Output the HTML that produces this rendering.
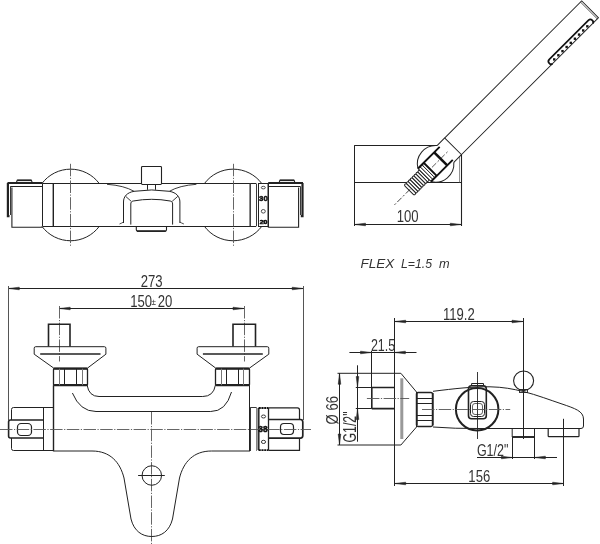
<!DOCTYPE html>
<html><head><meta charset="utf-8"><style>
html,body{margin:0;padding:0;background:#fff;width:600px;height:544px;overflow:hidden}
svg{display:block;will-change:transform}
</style></head><body>
<svg width="600" height="544" viewBox="0 0 600 544">
<rect width="600" height="544" fill="#fff"/>
<line x1="42.6" y1="183.5" x2="256" y2="183.5" stroke="#222" stroke-width="1" />
<line x1="42.6" y1="226.5" x2="256" y2="226.5" stroke="#222" stroke-width="1" />
<path d="M41.94,183.5 A35.8,35.8 0 0 1 99.26,183.5" stroke="#222" stroke-width="1" fill="none" />
<path d="M41.86,226.3 A35.8,35.8 0 0 0 99.34,226.3" stroke="#222" stroke-width="1" fill="none" />
<line x1="70.5" y1="163.8" x2="70.5" y2="246.5" stroke="#555" stroke-width="0.9" stroke-dasharray="12.5,1.5,1.2,1.5"/>
<path d="M204.44,183.5 A35.8,35.8 0 0 1 261.76,183.5" stroke="#222" stroke-width="1" fill="none" />
<path d="M204.36,226.3 A35.8,35.8 0 0 0 261.84,226.3" stroke="#222" stroke-width="1" fill="none" />
<line x1="233.5" y1="163.8" x2="233.5" y2="246.5" stroke="#555" stroke-width="0.9" stroke-dasharray="12.5,1.5,1.2,1.5"/>
<line x1="42.5" y1="183.5" x2="42.5" y2="226.3" stroke="#222" stroke-width="1" />
<line x1="53.3" y1="183.5" x2="53.3" y2="226.3" stroke="#222" stroke-width="1.4" />
<line x1="250.2" y1="183.5" x2="250.2" y2="226.3" stroke="#444" stroke-width="1.6" />
<line x1="7.5" y1="183" x2="42.6" y2="183" stroke="#222" stroke-width="2" />
<line x1="10.5" y1="186.5" x2="42.6" y2="186.5" stroke="#222" stroke-width="1.2" />
<path d="M42.6,227.2 L11.9,227.2 L11.9,187.5" stroke="#222" stroke-width="1.1" fill="none" />
<path d="M9.5,216.2 L7.9,216.2 L7.9,183" stroke="#222" stroke-width="2.2" fill="none" />
<line x1="10.5" y1="186.3" x2="10.5" y2="215" stroke="#222" stroke-width="0.9" />
<path d="M16.3,183 L17.2,180.2 L31.4,180.2 L32.3,183" stroke="#222" stroke-width="1.1" fill="none" />
<line x1="17.2" y1="180.3" x2="31.4" y2="180.3" stroke="#222" stroke-width="1.6" />
<line x1="256.5" y1="183.5" x2="256.5" y2="226.3" stroke="#222" stroke-width="0.9" />
<rect x="258.5" y="183.5" width="10.0" height="43.0" rx="0" stroke="#222" stroke-width="1" fill="none" />
<ellipse cx="263.3" cy="187.6" rx="2" ry="1.3" stroke="#222" stroke-width="0.8" fill="none"/>
<ellipse cx="263.3" cy="211.3" rx="2" ry="1.8" stroke="#222" stroke-width="0.8" fill="none"/>
<text transform="translate(263.4,201.2) scale(1.0,1)" font-family="Liberation Sans, sans-serif" font-size="7.9" fill="#111" text-anchor="middle" font-weight="bold" stroke="#111" stroke-width="0.5">30</text>
<text transform="translate(263.5,224.4) scale(1.5,1)" font-family="Liberation Sans, sans-serif" font-size="4.6" fill="#111" text-anchor="middle" font-weight="bold" stroke="#111" stroke-width="0.5">20</text>
<line x1="268.2" y1="183" x2="303" y2="183" stroke="#222" stroke-width="2" />
<line x1="268.2" y1="186.5" x2="300.3" y2="186.5" stroke="#222" stroke-width="1.2" />
<line x1="268.2" y1="183" x2="268.2" y2="227.2" stroke="#222" stroke-width="1.4" />
<path d="M268.2,227.2 L298.6,227.2 L298.6,187.5" stroke="#222" stroke-width="1.1" fill="none" />
<path d="M300.8,216.1 L302.5,216.1 L302.5,183" stroke="#222" stroke-width="2.2" fill="none" />
<line x1="300.5" y1="186.3" x2="300.5" y2="215" stroke="#222" stroke-width="0.9" />
<path d="M279,183 L279.9,180.2 L294.1,180.2 L295,183" stroke="#222" stroke-width="1.1" fill="none" />
<line x1="279.9" y1="180.3" x2="294.1" y2="180.3" stroke="#222" stroke-width="1.6" />
<rect x="141.5" y="166.5" width="20.0" height="18.0" rx="0.9" stroke="#222" stroke-width="1.1" fill="#fff" />
<line x1="147.5" y1="184.9" x2="147.5" y2="189.8" stroke="#222" stroke-width="1" />
<line x1="155.5" y1="184.9" x2="155.5" y2="189.8" stroke="#222" stroke-width="1" />
<path d="M123.5,223 L123.5,202 C123.5,196.5 127,192.6 134,191.3 Q151.7,188.6 169.4,191.3 C176.4,192.6 179.9,196.5 179.9,202 L179.9,223" stroke="#222" stroke-width="1" fill="none" />
<path d="M130.8,224.6 L130.8,204 C130.8,202.2 131.6,201.3 133.2,201 Q151.7,197.6 170.2,201 C171.8,201.3 172.6,202.2 172.6,204 L172.6,224.6" stroke="#222" stroke-width="1" fill="none" />
<line x1="125.6" y1="196.3" x2="131.2" y2="201.3" stroke="#222" stroke-width="0.9" />
<line x1="177.8" y1="196.3" x2="172.2" y2="201.3" stroke="#222" stroke-width="0.9" />
<path d="M107,184.3 Q124,185.5 134,191.3" stroke="#222" stroke-width="0.9" fill="none" />
<path d="M196.4,184.3 Q179.4,185.5 169.4,191.3" stroke="#222" stroke-width="0.9" fill="none" />
<path d="M119.5,224 Q122,223 123.5,222" stroke="#222" stroke-width="0.8" fill="none" />
<path d="M183.9,224 Q181.4,223 179.9,222" stroke="#222" stroke-width="0.8" fill="none" />
<path d="M136.3,226.3 L136.3,229.8 Q136.3,231.2 137.8,231.2 L165,231.2 Q166.5,231.2 166.5,229.8 L166.5,226.3" stroke="#222" stroke-width="1.1" fill="none" />
<line x1="137" y1="231.1" x2="165.8" y2="231.1" stroke="#222" stroke-width="1.7" />
<line x1="354.2" y1="145.5" x2="436.8" y2="145.5" stroke="#222" stroke-width="1" />
<line x1="354.2" y1="182.5" x2="461.3" y2="182.5" stroke="#222" stroke-width="1" />
<line x1="354.5" y1="145.5" x2="354.5" y2="226" stroke="#222" stroke-width="1" />
<line x1="461.5" y1="154.5" x2="461.5" y2="226" stroke="#222" stroke-width="1.1" />
<line x1="459.5" y1="156" x2="459.5" y2="182.3" stroke="#777" stroke-width="0.8" />
<line x1="354.2" y1="224.5" x2="461.3" y2="224.5" stroke="#222" stroke-width="1" />
<path d="M354.50,224.50 L365.50,223.20 L365.50,225.80 Z" fill="#222" stroke="#222" stroke-width="0.5"/>
<path d="M461.30,224.50 L450.30,225.80 L450.30,223.20 Z" fill="#222" stroke="#222" stroke-width="0.5"/>
<text transform="translate(407.7,222) scale(0.8,1)" font-family="Liberation Sans, sans-serif" font-size="16.4" fill="#333" text-anchor="middle" >100</text>
<g transform="translate(435.5,163.85) rotate(-45)">
<path d="M24.85,-11.85 L218.6,-11.85 L218.6,11.85 L24.85,11.85 Z" stroke="#222" stroke-width="1" fill="#fff"/>
<line x1="216.9" y1="-11.85" x2="216.9" y2="11.85" stroke="#222" stroke-width="0.7" />
<path d="M24.85,-11.85 L14.07,-11.85 M24.85,11.85 L14.07,11.85" stroke="#222" stroke-width="1" fill="none"/>
<path d="M153.5,11.85 Q151.5,11.85 151.5,9.5 Q151.5,6.65 154.3,6.65 L209.5,6.65 Q212.3,6.65 212.3,9.5 Q212.3,11.85 210.5,11.85" stroke="#111" stroke-width="1.7" fill="none" />
<rect x="156.60" y="8.9" width="2.4" height="2.4" fill="#111" transform="rotate(45 157.80 10.1)"/>
<rect x="162.45" y="8.9" width="2.4" height="2.4" fill="#111" transform="rotate(45 163.65 10.1)"/>
<rect x="168.30" y="8.9" width="2.4" height="2.4" fill="#111" transform="rotate(45 169.50 10.1)"/>
<rect x="174.15" y="8.9" width="2.4" height="2.4" fill="#111" transform="rotate(45 175.35 10.1)"/>
<rect x="180.00" y="8.9" width="2.4" height="2.4" fill="#111" transform="rotate(45 181.20 10.1)"/>
<rect x="185.85" y="8.9" width="2.4" height="2.4" fill="#111" transform="rotate(45 187.05 10.1)"/>
<rect x="191.70" y="8.9" width="2.4" height="2.4" fill="#111" transform="rotate(45 192.90 10.1)"/>
<rect x="197.55" y="8.9" width="2.4" height="2.4" fill="#111" transform="rotate(45 198.75 10.1)"/>
<rect x="203.40" y="8.9" width="2.4" height="2.4" fill="#111" transform="rotate(45 204.60 10.1)"/>
<path d="M-15.7,-9.1 A18.4,18.4 0 0 1 14.07,-11.85" stroke="#222" stroke-width="1" fill="none" />
<path d="M-15.7,9.4 A18.4,18.4 0 0 0 14.07,11.85" stroke="#222" stroke-width="1" fill="none" />
<rect x="-18.4" y="-7.2" width="2.7" height="14.4" rx="1.35" stroke="#222" stroke-width="1.0" fill="#fff" />
<rect x="-21.099999999999998" y="-7.2" width="2.7" height="14.4" rx="1.35" stroke="#222" stroke-width="1.0" fill="#fff" />
<rect x="-23.8" y="-7.2" width="2.7" height="14.4" rx="1.35" stroke="#222" stroke-width="1.0" fill="#fff" />
<rect x="-26.5" y="-7.2" width="2.7" height="14.4" rx="1.35" stroke="#222" stroke-width="1.0" fill="#fff" />
<rect x="-29.2" y="-7.2" width="2.7" height="14.4" rx="1.35" stroke="#222" stroke-width="1.0" fill="#fff" />
<rect x="-31.9" y="-7.2" width="2.7" height="14.4" rx="1.35" stroke="#222" stroke-width="1.0" fill="#fff" />
<rect x="-34.6" y="-7.2" width="2.7" height="14.4" rx="1.35" stroke="#222" stroke-width="1.0" fill="#fff" />
<rect x="-37.300000000000004" y="-7.2" width="2.7" height="14.4" rx="1.35" stroke="#222" stroke-width="1.0" fill="#fff" />
<rect x="-10.3" y="-8.8" width="2.7" height="17.8" rx="1.35" stroke="#222" stroke-width="0.9" fill="#fff" />
<rect x="-13.0" y="-8.8" width="2.7" height="17.8" rx="1.35" stroke="#222" stroke-width="0.9" fill="#fff" />
<rect x="-15.7" y="-8.8" width="2.7" height="17.8" rx="1.35" stroke="#222" stroke-width="0.9" fill="#fff" />
<path d="M15,-9.1 L-15.7,-9.1 M15,9.4 L-15.7,9.4 M-7.6,-9.1 L-7.6,9.4" stroke="#111" stroke-width="1.9" fill="none"/>
<line x1="7.2" y1="-9.1" x2="7.2" y2="9.4" stroke="#111" stroke-width="2.6" />
<line x1="-15.7" y1="-9.1" x2="-15.7" y2="9.4" stroke="#222" stroke-width="0.9" />
<line x1="-36" y1="0" x2="-58" y2="0" stroke="#222" stroke-width="0.8" stroke-dasharray="6,2,2,2"/>
<line x1="-5" y1="0" x2="17" y2="0" stroke="#222" stroke-width="0.7" stroke-dasharray="6,2,2,2"/>
</g>
<text transform="translate(360.4,267.6) scale(1.09,1)" font-family="Liberation Sans, sans-serif" font-size="12.4" fill="#333" text-anchor="start" font-style="italic">FLEX</text>
<text transform="translate(401,267.6) scale(0.99,1)" font-family="Liberation Sans, sans-serif" font-size="12.4" fill="#333" text-anchor="start" font-style="italic">L=1.5</text>
<text transform="translate(439,267.6) scale(1.03,1)" font-family="Liberation Sans, sans-serif" font-size="12.4" fill="#333" text-anchor="start" font-style="italic">m</text>
<line x1="8.3" y1="288.5" x2="303.2" y2="288.5" stroke="#222" stroke-width="1" />
<path d="M8.30,288.50 L19.30,287.20 L19.30,289.80 Z" fill="#222" stroke="#222" stroke-width="0.5"/>
<path d="M303.20,288.50 L292.20,289.80 L292.20,287.20 Z" fill="#222" stroke="#222" stroke-width="0.5"/>
<line x1="8.5" y1="286" x2="8.5" y2="420" stroke="#555" stroke-width="1" />
<line x1="303.5" y1="286" x2="303.5" y2="420" stroke="#555" stroke-width="1" />
<text transform="translate(151.6,286.9) scale(0.8,1)" font-family="Liberation Sans, sans-serif" font-size="16.4" fill="#333" text-anchor="middle" >273</text>
<line x1="59.2" y1="308.5" x2="244" y2="308.5" stroke="#222" stroke-width="1" />
<path d="M59.20,308.50 L70.20,307.20 L70.20,309.80 Z" fill="#222" stroke="#222" stroke-width="0.5"/>
<path d="M244.00,308.50 L233.00,309.80 L233.00,307.20 Z" fill="#222" stroke="#222" stroke-width="0.5"/>
<text transform="translate(141.2,306.9) scale(0.8,1)" font-family="Liberation Sans, sans-serif" font-size="16.4" fill="#333" text-anchor="middle" >150</text>
<text transform="translate(153.7,305.2) scale(0.9,1)" font-family="Liberation Sans, sans-serif" font-size="9" fill="#333" text-anchor="middle" >&#177;</text>
<text transform="translate(165.1,306.9) scale(0.8,1)" font-family="Liberation Sans, sans-serif" font-size="16.4" fill="#333" text-anchor="middle" >20</text>
<line x1="59.5" y1="306" x2="59.5" y2="361.5" stroke="#555" stroke-width="0.9" stroke-dasharray="12.5,1.5,1.2,1.5"/>
<line x1="244.5" y1="306" x2="244.5" y2="361.5" stroke="#555" stroke-width="0.9" stroke-dasharray="12.5,1.5,1.2,1.5"/>
<path d="M48.5,346.5 L48.5,324.2 L70,324.2 L70,346.5" stroke="#222" stroke-width="1.6" fill="none" />
<path d="M233,346.5 L233,324.2 L255.5,324.2 L255.5,346.5" stroke="#222" stroke-width="1.6" fill="none" />
<path d="M35.7,346.7 L104.4,346.7 Q105.9,346.7 105.9,348.2 L105.9,354.2 L87.6,368 L53.6,368 L34.2,354.2 L34.2,348.2 Q34.2,346.7 35.7,346.7 Z" stroke="#222" stroke-width="1" fill="none" />
<line x1="40.2" y1="354" x2="100.5" y2="354" stroke="#222" stroke-width="1.6" />
<rect x="53.5" y="368.5" width="34.0" height="17.0" rx="1" stroke="#222" stroke-width="1.3" fill="none" />
<line x1="54.1" y1="368.9" x2="87.1" y2="368.9" stroke="#222" stroke-width="1.5" />
<line x1="54.1" y1="384.9" x2="87.1" y2="384.9" stroke="#222" stroke-width="1.8" />
<line x1="59.5" y1="368.7" x2="59.5" y2="385.2" stroke="#777" stroke-width="1" />
<line x1="64.5" y1="368.7" x2="64.5" y2="385.2" stroke="#222" stroke-width="1" />
<line x1="76.5" y1="368.7" x2="76.5" y2="385.2" stroke="#222" stroke-width="1" />
<line x1="82.5" y1="368.7" x2="82.5" y2="385.2" stroke="#777" stroke-width="1" />
<path d="M198.6,346.7 L267.3,346.7 Q268.8,346.7 268.8,348.2 L268.8,354.2 L249.6,368 L215.6,368 L197.1,354.2 L197.1,348.2 Q197.1,346.7 198.6,346.7 Z" stroke="#222" stroke-width="1" fill="none" />
<line x1="202.9" y1="354" x2="262.8" y2="354" stroke="#222" stroke-width="1.6" />
<rect x="215.5" y="368.5" width="34.0" height="17.0" rx="1" stroke="#222" stroke-width="1.3" fill="none" />
<line x1="216.1" y1="368.9" x2="249.1" y2="368.9" stroke="#222" stroke-width="1.5" />
<line x1="216.1" y1="384.9" x2="249.1" y2="384.9" stroke="#222" stroke-width="1.8" />
<line x1="221.5" y1="368.7" x2="221.5" y2="385.2" stroke="#777" stroke-width="1" />
<line x1="226.5" y1="368.7" x2="226.5" y2="385.2" stroke="#222" stroke-width="1" />
<line x1="238.5" y1="368.7" x2="238.5" y2="385.2" stroke="#222" stroke-width="1" />
<line x1="243.5" y1="368.7" x2="243.5" y2="385.2" stroke="#777" stroke-width="1" />
<line x1="249.5" y1="385.2" x2="249.5" y2="451" stroke="#222" stroke-width="1" />
<path d="M87.1,385.2 Q89,396.5 99,396.5 L202.7,396.5 Q213.5,396.5 215.4,385.2" stroke="#222" stroke-width="1" fill="none" />
<path d="M72.4,393 Q80,411.5 96,411.5 L210.7,411.5 Q226,411.5 231.5,392" stroke="#222" stroke-width="1" fill="none" />
<line x1="151.5" y1="412" x2="151.5" y2="544" stroke="#555" stroke-width="0.9" stroke-dasharray="12.5,1.5,1.2,1.5"/>
<path d="M53.5,451 L92,451 C110,451 120,462 124,478 L131,519 C134,531 142,536.5 151.8,536.5 C161.5,536.5 169.5,531 172.5,519 L179.5,478 C183.5,462 193.5,451 211.5,451 L250,451" stroke="#222" stroke-width="1" fill="none" />
<circle cx="151.8" cy="475.5" r="9.75" stroke="#222" stroke-width="1" fill="none" />
<line x1="138.1" y1="475.5" x2="164.8" y2="475.5" stroke="#222" stroke-width="1" />
<path d="M53.5,407.5 L13.5,407.5 Q11.5,407.5 11.5,409.5 L11.5,448.5 Q11.5,450.5 13.5,450.5 L53.5,450.5" stroke="#222" stroke-width="1" fill="none" />
<line x1="43.5" y1="407.9" x2="43.5" y2="450.5" stroke="#222" stroke-width="1" />
<line x1="53.5" y1="385.2" x2="53.5" y2="451.3" stroke="#222" stroke-width="1.4" />
<path d="M43,420 L10.5,420 Q8.6,420 8.6,422 L8.6,436 Q8.6,438 10.5,438 L43,438" stroke="#222" stroke-width="1.6" fill="#fff" />
<rect x="17.5" y="423.5" width="14.0" height="12.0" rx="3.6" stroke="#222" stroke-width="1.2" fill="none" />
<line x1="250.5" y1="407.5" x2="250.5" y2="451" stroke="#222" stroke-width="0.9" />
<line x1="256.5" y1="407.5" x2="256.5" y2="451" stroke="#777" stroke-width="0.9" />
<line x1="250.3" y1="407.5" x2="256.5" y2="407.5" stroke="#222" stroke-width="0.9" />
<line x1="258.8" y1="407.9" x2="258.8" y2="450.3" stroke="#222" stroke-width="1.5" />
<line x1="257.5" y1="408" x2="257.5" y2="450" stroke="#888" stroke-width="0.8" />
<line x1="258.6" y1="408" x2="268.6" y2="408" stroke="#111" stroke-width="1.8" stroke-dasharray="2.2,0.6"/>
<line x1="258.6" y1="450.2" x2="268.6" y2="450.2" stroke="#111" stroke-width="1.8" stroke-dasharray="2.2,0.6"/>
<ellipse cx="263.5" cy="416.5" rx="2.1" ry="1.5" stroke="#222" stroke-width="0.9" fill="none"/>
<ellipse cx="263.5" cy="441.9" rx="2.1" ry="1.6" stroke="#222" stroke-width="0.9" fill="none"/>
<path d="M268.7,407.9 L297.5,407.9 Q299.5,407.9 299.5,410 L299.5,450.3 L268.7,450.3" stroke="#222" stroke-width="1.2" fill="none" />
<path d="M268.7,419.5 L300.5,419.5 Q302.8,419.5 302.8,422 L302.8,435.6 Q302.8,438.1 300.5,438.1 L268.7,438.1" stroke="#222" stroke-width="1.7" fill="#fff" />
<rect x="280.5" y="423.5" width="13.0" height="11.0" rx="3.4" stroke="#222" stroke-width="1.2" fill="none" />
<line x1="268.5" y1="407.9" x2="268.5" y2="450.3" stroke="#222" stroke-width="1.3" />
<line x1="0" y1="429.5" x2="311" y2="429.5" stroke="#555" stroke-width="0.9" stroke-dasharray="12.5,1.5,1.2,1.5"/>
<text transform="translate(263,432.2) scale(1.0,1)" font-family="Liberation Sans, sans-serif" font-size="8.4" fill="#111" text-anchor="middle" font-weight="bold" stroke="#111" stroke-width="0.5">38</text>
<line x1="394.7" y1="321.5" x2="523" y2="321.5" stroke="#222" stroke-width="1" />
<path d="M394.70,321.50 L405.70,320.20 L405.70,322.80 Z" fill="#222" stroke="#222" stroke-width="0.5"/>
<path d="M523.00,321.50 L512.00,322.80 L512.00,320.20 Z" fill="#222" stroke="#222" stroke-width="0.5"/>
<line x1="394.5" y1="318" x2="394.5" y2="486" stroke="#222" stroke-width="1" />
<line x1="523.5" y1="318" x2="523.5" y2="439" stroke="#222" stroke-width="1" />
<text transform="translate(458.8,319.8) scale(0.8,1)" font-family="Liberation Sans, sans-serif" font-size="16.4" fill="#333" text-anchor="middle" >119.2</text>
<line x1="349.4" y1="352.5" x2="416.5" y2="352.5" stroke="#222" stroke-width="1" />
<path d="M371.50,352.50 L360.50,353.80 L360.50,351.20 Z" fill="#222" stroke="#222" stroke-width="0.5"/>
<path d="M394.40,352.50 L405.40,351.20 L405.40,353.80 Z" fill="#222" stroke="#222" stroke-width="0.5"/>
<text transform="translate(383,350.5) scale(0.76,1)" font-family="Liberation Sans, sans-serif" font-size="16.4" fill="#333" text-anchor="middle" >21.5</text>
<line x1="371.5" y1="351" x2="371.5" y2="387.5" stroke="#222" stroke-width="1" />
<path d="M337.5,373.3 L400.9,373.3 L416.5,392 L416.5,427 L400.9,445 L337.5,445" stroke="#222" stroke-width="1" fill="none" />
<line x1="401.8" y1="378.3" x2="401.8" y2="439" stroke="#999" stroke-width="3" />
<path d="M371.8,408.6 L371.8,387.5 L394.4,387.5 M371.8,408.6 L394.4,408.6" stroke="#222" stroke-width="1.6" fill="none" />
<line x1="366.9" y1="398.5" x2="409.2" y2="398.5" stroke="#555" stroke-width="0.9" stroke-dasharray="12.5,1.5,1.2,1.5"/>
<line x1="339.5" y1="373.3" x2="339.5" y2="445" stroke="#222" stroke-width="1" />
<path d="M339.50,373.30 L340.80,384.30 L338.20,384.30 Z" fill="#222" stroke="#222" stroke-width="0.5"/>
<path d="M339.50,445.00 L338.20,434.00 L340.80,434.00 Z" fill="#222" stroke="#222" stroke-width="0.5"/>
<text transform="translate(338.4,410.2) rotate(-90) scale(0.8,1)" font-family="Liberation Sans, sans-serif" font-size="16.4" fill="#333" text-anchor="middle" >&#216; 66</text>
<line x1="357.5" y1="365.3" x2="357.5" y2="441.7" stroke="#222" stroke-width="1" />
<path d="M357.50,387.50 L356.20,376.50 L358.80,376.50 Z" fill="#222" stroke="#222" stroke-width="0.5"/>
<path d="M357.50,408.60 L358.80,419.60 L356.20,419.60 Z" fill="#222" stroke="#222" stroke-width="0.5"/>
<line x1="355.8" y1="387.5" x2="371.8" y2="387.5" stroke="#222" stroke-width="1" />
<line x1="355.8" y1="408.5" x2="371.8" y2="408.5" stroke="#222" stroke-width="1" />
<text transform="translate(356,427) rotate(-90) scale(0.7,1)" font-family="Liberation Sans, sans-serif" font-size="17.6" fill="#333" text-anchor="middle" >G1/2"</text>
<rect x="416.5" y="392.5" width="16.0" height="34.0" rx="1.5" stroke="#222" stroke-width="1.3" fill="none" />
<line x1="416.8" y1="393" x2="416.8" y2="425.5" stroke="#222" stroke-width="1.8" />
<line x1="432.8" y1="393" x2="432.8" y2="425.5" stroke="#222" stroke-width="1.8" />
<line x1="417" y1="398.5" x2="433" y2="398.5" stroke="#222" stroke-width="1" />
<line x1="417" y1="403.5" x2="433" y2="403.5" stroke="#222" stroke-width="1" />
<line x1="417" y1="415.5" x2="433" y2="415.5" stroke="#222" stroke-width="1" />
<line x1="417" y1="420.5" x2="433" y2="420.5" stroke="#222" stroke-width="1" />
<path d="M433,391.3 C455,388.6 472,386.6 490,386.8 C503,387 513,389 523.4,391.5 C537,395 550,400 562,404 C575,408.5 583.3,411 583.5,419 L583.5,426 Q583.5,428.5 581,428.5 L478,428.5 Q455,428.7 433,427" stroke="#222" stroke-width="1" fill="none" />
<circle cx="477.15" cy="409.25" r="21.25" stroke="#222" stroke-width="2" fill="none" />
<path d="M471.6,385.7 L471.6,383.5 L483.5,383.5 L483.5,385.7" stroke="#222" stroke-width="1" fill="none" />
<rect x="468.5" y="385.7" width="17.8" height="33.1" rx="3" stroke="#222" stroke-width="1.6" fill="none" />
<rect x="470.5" y="401.5" width="14.0" height="15.0" rx="3" stroke="#222" stroke-width="1" fill="none" />
<rect x="472.5" y="403.5" width="10.0" height="11.0" rx="2.5" stroke="#222" stroke-width="0.7" fill="none" />
<line x1="477.5" y1="372" x2="477.5" y2="439" stroke="#222" stroke-width="0.9" />
<line x1="422" y1="409.5" x2="510.2" y2="409.5" stroke="#555" stroke-width="0.9" stroke-dasharray="12.5,1.5,1.2,1.5"/>
<ellipse cx="523.6" cy="380.8" rx="10" ry="9.8" stroke="#222" stroke-width="1.1" fill="none"/>
<rect x="519.5" y="389.5" width="8.0" height="3.0" rx="0" stroke="#222" stroke-width="0.9" fill="none" />
<path d="M512.2,428.5 L512.2,437 L534.5,437 L534.5,428.5" stroke="#222" stroke-width="1" fill="none" />
<line x1="512.2" y1="437" x2="534.5" y2="437" stroke="#222" stroke-width="1.8" />
<path d="M548.2,428.5 L548.2,436 Q548.2,436.6 549,436.6 L578.2,436.6 Q579,436.6 579,436 L579,428.5" stroke="#222" stroke-width="1.2" fill="none" />
<line x1="563.5" y1="418.8" x2="563.5" y2="486" stroke="#222" stroke-width="1" />
<line x1="512.5" y1="437" x2="512.5" y2="459" stroke="#222" stroke-width="1" />
<line x1="534.5" y1="437" x2="534.5" y2="459" stroke="#222" stroke-width="1" />
<line x1="477" y1="457.5" x2="557" y2="457.5" stroke="#222" stroke-width="1" />
<path d="M512.40,457.50 L501.40,458.80 L501.40,456.20 Z" fill="#222" stroke="#222" stroke-width="0.5"/>
<path d="M534.40,457.50 L545.40,456.20 L545.40,458.80 Z" fill="#222" stroke="#222" stroke-width="0.5"/>
<text transform="translate(492.6,455.6) scale(0.8,1)" font-family="Liberation Sans, sans-serif" font-size="15.6" fill="#333" text-anchor="middle" >G1/2"</text>
<line x1="394.7" y1="483.5" x2="563.6" y2="483.5" stroke="#222" stroke-width="1" />
<path d="M394.70,483.50 L405.70,482.20 L405.70,484.80 Z" fill="#222" stroke="#222" stroke-width="0.5"/>
<path d="M563.60,483.50 L552.60,484.80 L552.60,482.20 Z" fill="#222" stroke="#222" stroke-width="0.5"/>
<text transform="translate(479.3,482.4) scale(0.8,1)" font-family="Liberation Sans, sans-serif" font-size="16.4" fill="#333" text-anchor="middle" >156</text>
</svg></body></html>
